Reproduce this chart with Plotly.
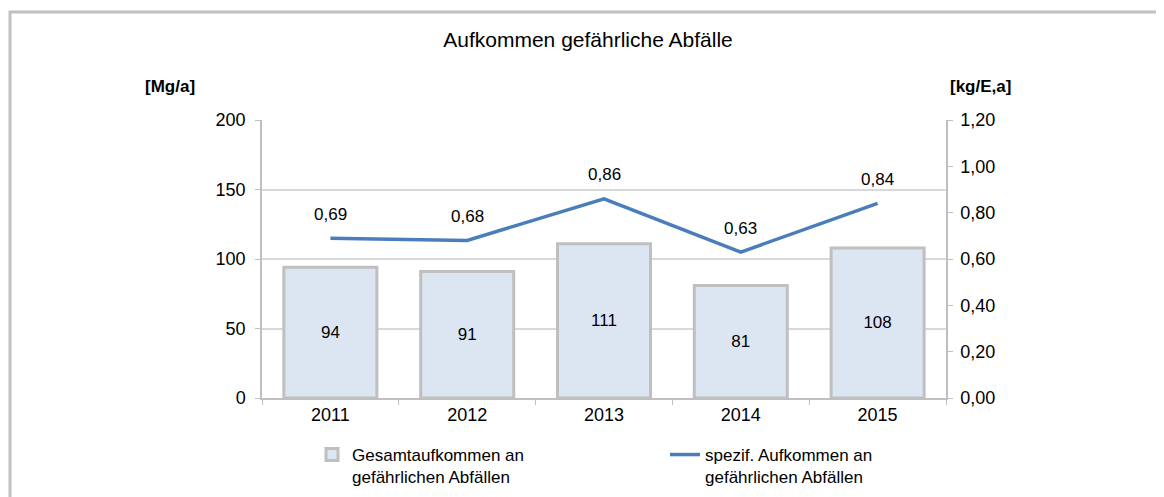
import plotly.graph_objects as go

years = ["2011", "2012", "2013", "2014", "2015"]
total_mg = [94, 91, 111, 81, 108]
spec_kg = [0.69, 0.68, 0.86, 0.63, 0.84]

OFF = 8  # page offset of the figure
W, H = 1164 - OFF, 497 - OFF
L, R, T, B = 262 - OFF, 946 - OFF, 120 - OFF, 398 - OFF

def px(x):
    return (x - OFF - L) / (R - L)

def py(y):
    return (B - (y - OFF)) / (B - T)

font = "Liberation Sans, Arial, sans-serif"
grid = "#d9d9d9"
axc = "#bfbfbf"
TICK = 18

fig = go.Figure()
fig.add_trace(go.Bar(
    x=years, y=total_mg, name="Gesamtaufkommen an<br>gefährlichen Abfällen",
    marker=dict(color="#dce6f2", line=dict(color="#bfbfbf", width=3)),
    width=0.68, text=total_mg, texttemplate="%{y}", textposition="inside",
    insidetextanchor="middle", textfont=dict(size=17, color="#000000", family=font),
    yaxis="y", legend="legend",
))
fig.add_trace(go.Scatter(
    x=years, y=spec_kg, name="spezif. Aufkommen an<br>gefährlichen Abfällen",
    mode="lines", line=dict(color="#4a7ebb", width=3.5), yaxis="y2", legend="legend2",
))

for i, v in enumerate(spec_kg):
    fig.add_annotation(x=i, y=v, xref="x", yref="y2", text=f"{v:.2f}".replace(".", ","),
                       showarrow=False, yshift=24, font=dict(size=17, color="#000000", family=font))

fig.add_annotation(x=px(170), y=py(86), xref="paper", yref="paper", text="<b>[Mg/a]</b>",
                   xanchor="center", yanchor="middle",
                   showarrow=False, font=dict(size=17, color="#000000", family=font))
fig.add_annotation(x=px(980), y=py(86), xref="paper", yref="paper", text="<b>[kg/E,a]</b>",
                   xanchor="center", yanchor="middle",
                   showarrow=False, font=dict(size=17, color="#000000", family=font))

fig.add_shape(type="rect", xref="paper", yref="paper",
              x0=px(10), x1=px(1180), y0=py(12), y1=py(515),
              line=dict(color="#c0c0c0", width=3), fillcolor="rgba(0,0,0,0)", layer="below")

leg_common = dict(orientation="h", xanchor="left", yanchor="top", valign="top",
                  font=dict(size=17, family=font, color="#000000"), bgcolor="rgba(0,0,0,0)")

fig.update_layout(
    width=W, height=H,
    margin=dict(l=L, r=W - R, t=T, b=H - B, autoexpand=False),
    paper_bgcolor="white", plot_bgcolor="white",
    separators=",.",
    font=dict(family=font, size=TICK, color="#000000"),
    title=dict(text="Aufkommen gefährliche Abfälle", x=px(588), xref="paper", xanchor="center",
               y=1 - (40 - OFF) / H, yanchor="middle",
               font=dict(size=21, family=font, color="#000000")),
    showlegend=True,
    legend=dict(x=px(312), y=py(437), **leg_common),
    legend2=dict(x=px(665), y=py(437), **leg_common),
    xaxis=dict(type="category", range=[-0.5, 4.5], showline=True, linecolor=axc, linewidth=1.5,
               ticks="outside", tickson="boundaries", ticklen=5, tickcolor=axc,
               showgrid=False, tickfont=dict(size=TICK)),
    yaxis=dict(range=[0, 200], tickvals=[0, 50, 100, 150, 200], showline=True, linecolor=axc,
               linewidth=1.5, ticks="outside", ticklen=5, tickcolor=axc, showgrid=True,
               gridcolor=grid, gridwidth=1.5, zeroline=False, tickfont=dict(size=TICK),
               ticklabelstandoff=6),
    yaxis2=dict(range=[0, 1.2], tickvals=[0, 0.2, 0.4, 0.6, 0.8, 1.0, 1.2], tickformat=".2f",
                overlaying="y", side="right", showline=True, linecolor=axc, linewidth=1.5,
                ticks="outside", ticklen=5, tickcolor=axc, showgrid=False, zeroline=False,
                tickfont=dict(size=TICK), ticklabelstandoff=4),
)

fig.write_html("out.html")
